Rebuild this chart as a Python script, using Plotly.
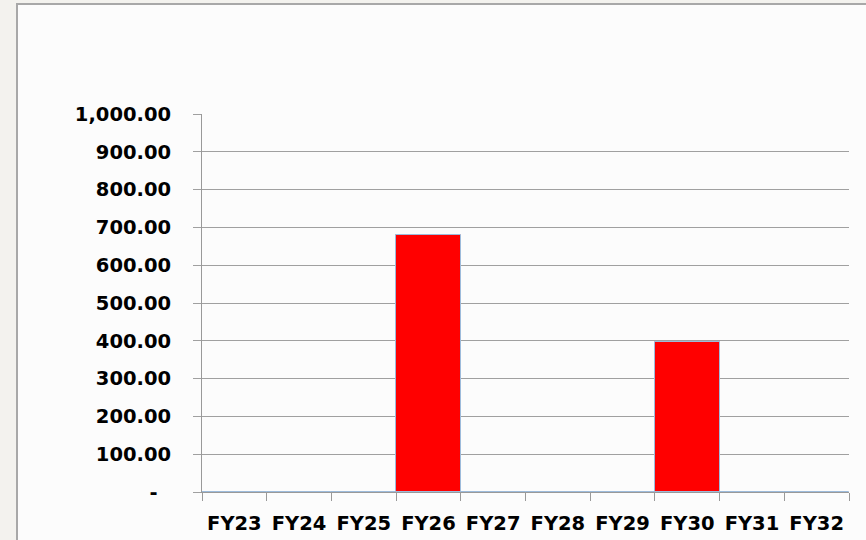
import plotly.graph_objects as go

categories = ["FY23", "FY24", "FY25", "FY26", "FY27", "FY28", "FY29", "FY30", "FY31", "FY32"]
values = [0, 0, 0, 680, 0, 0, 0, 398, 0, 0]
y_tickvals = [0, 100, 200, 300, 400, 500, 600, 700, 800, 900, 1000]
y_ticktext = ["-\u00a0\u00a0", "100.00", "200.00", "300.00", "400.00", "500.00", "600.00",
              "700.00", "800.00", "900.00", "1,000.00"]

W, H = 866, 540
L, R, T, B = 202, 17, 114, 48
pw, ph = W - L - R, H - T - B


def px_x(x):
    return (x - L) / pw


def px_y(y):
    return (H - B - y) / ph


fig = go.Figure()
fig.add_trace(go.Bar(
    x=categories, y=values,
    marker=dict(color="#ff0000", line=dict(color="#9dbbdb", width=1)),
))

tf = dict(family="DejaVu Sans", size=19.5, color="#000000", weight="bold")
fig.update_layout(
    width=W, height=H,
    margin=dict(l=L, r=R, t=T, b=B, autoexpand=False),
    paper_bgcolor="#f3f2ee",
    plot_bgcolor="#ffffff",
    bargap=0,
    showlegend=False,
    shapes=[
        dict(type="rect", xref="paper", yref="paper",
             x0=px_x(17), x1=px_x(W + 5), y0=px_y(H + 5), y1=px_y(4),
             fillcolor="#fcfcfc", line=dict(color="#a8a8a8", width=2), layer="below"),
    ],
    xaxis=dict(
        type="category",
        automargin=False,
        showgrid=False,
        showline=True, linecolor="#999999", linewidth=1,
        ticks="outside", ticklen=8, tickcolor="#999999", tickson="boundaries",
        tickfont=tf,
        ticklabelstandoff=14,
        fixedrange=True,
    ),
    yaxis=dict(
        range=[0, 1000],
        automargin=False,
        tickvals=y_tickvals, ticktext=y_ticktext,
        showgrid=True, gridcolor="#a0a0a0", gridwidth=1,
        showline=True, linecolor="#999999", linewidth=1,
        ticks="outside", ticklen=8, tickcolor="#a0a0a0",
        tickfont=tf,
        ticklabelstandoff=18,
        zeroline=False,
        fixedrange=True,
    ),
)
fig.write_html("out.html")
